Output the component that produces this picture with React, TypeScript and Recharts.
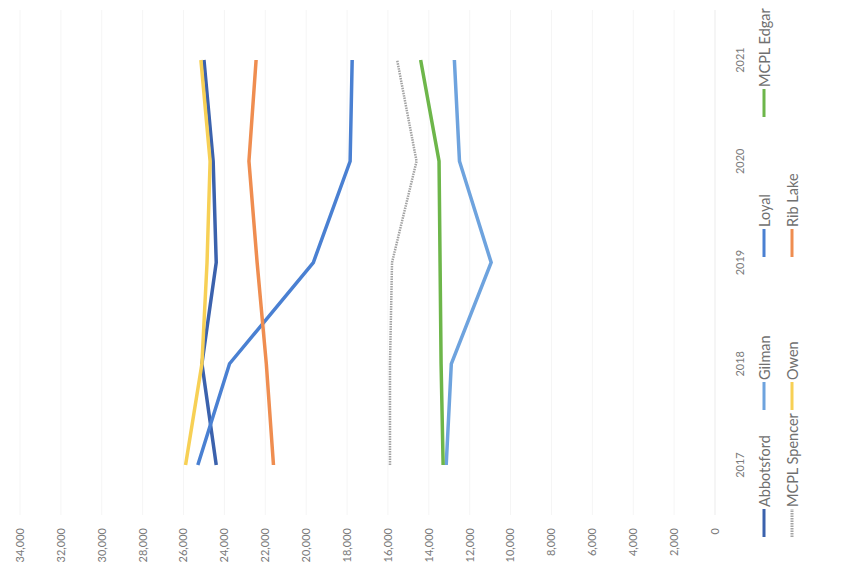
import React from "react";
import { LineChart, Line, XAxis, YAxis, CartesianGrid } from "recharts";

const years = ["2017", "2018", "2019", "2020", "2021"];

const abbotsford = [24400, 25100, 24400, 24550, 25000];
const gilman = [13150, 12900, 10950, 12500, 12750];
const loyal = [25300, 23750, 19650, 17850, 17750];
const mcplEdgar = [13300, 13400, 13450, 13500, 14400];
const mcplSpencer = [15900, 15900, 15800, 14600, 15550];
const owen = [25900, 25100, 24850, 24700, 25150];
const ribLake = [21600, 21950, 22400, 22800, 22450];

const valueTicks = [
    0, 2000, 4000, 6000, 8000, 10000, 12000, 14000, 16000, 18000, 20000, 22000,
    24000, 26000, 28000, 30000, 32000, 34000,
];

const series = [
    { name: "Abbotsford", values: abbotsford, color: "#3b62ad" },
    { name: "Gilman", values: gilman, color: "#6ea3de" },
    { name: "Loyal", values: loyal, color: "#4a80d2" },
    { name: "MCPL Edgar", values: mcplEdgar, color: "#6db64a" },
    { name: "MCPL Spencer", values: mcplSpencer, color: "#a3a3a3", dash: "1.5 1" },
    { name: "Owen", values: owen, color: "#f7d055" },
    { name: "Rib Lake", values: ribLake, color: "#ef8d50" },
];

const legendRows = [
    ["Abbotsford", "Gilman", "Loyal", "MCPL Edgar"],
    ["MCPL Spencer", "Owen", "Rib Lake"],
];
const colWidths = [127, 153, 140, 110];

const data = years.map((year, i) => {
    const row: Record<string, string | number> = { year };
    series.forEach((s) => {
        row[s.name] = s.values[i];
    });
    return row;
});

// chart is laid out the normal way, then turned a quarter turn to the left
const W = 575;
const H = 859;

const ChartLegend = () => (
    <div
        style={{
            position: "absolute",
            top: 750,
            left: 38,
            fontFamily: "Lato, sans-serif",
            fontSize: 14.5,
            color: "#707070",
        }}
    >
        {legendRows.map((row, r) => (
            <div key={r} style={{ display: "flex", height: 28, alignItems: "center" }}>
                {row.map((name, c) => {
                    const s = series.find((x) => x.name === name)!;
                    return (
                        <div
                            key={name}
                            style={{ width: colWidths[c], display: "flex", alignItems: "center" }}
                        >
                            <svg width={28} height={6} style={{ marginRight: 2 }}>
                                <line
                                    x1={0}
                                    y1={3}
                                    x2={28}
                                    y2={3}
                                    stroke={s.color}
                                    strokeWidth={3}
                                    strokeDasharray={s.dash}
                                />
                            </svg>
                            <span>{name}</span>
                        </div>
                    );
                })}
            </div>
        ))}
    </div>
);

export default function App() {
    return (
        <div
            style={{
                position: "absolute",
                left: 0,
                top: 0,
                width: 859,
                height: 575,
                overflow: "hidden",
                background: "#fff",
            }}
        >
            <div
                style={{
                    position: "absolute",
                    left: 0,
                    top: 0,
                    width: W,
                    height: H,
                    transformOrigin: "0 0",
                    transform: `translateY(${W}px) rotate(-90deg)`,
                }}
            >
                <LineChart
                    width={W}
                    height={H}
                    data={data}
                    margin={{ top: 20, right: 10, bottom: 114, left: 0 }}
                    style={{ fontFamily: "Lato, sans-serif" }}
                >
                    <CartesianGrid vertical={false} stroke="#f5f5f5" />
                    <XAxis
                        dataKey="year"
                        interval={0}
                        padding={{ left: 50, right: 50 }}
                        height={30}
                        tickLine={false}
                        tickMargin={15}
                        axisLine={{ stroke: "#f0f0f0" }}
                        tick={{ fontSize: 11, fill: "#7a7a7a" }}
                    />
                    <YAxis
                        domain={[0, 34000]}
                        ticks={valueTicks}
                        width={60}
                        axisLine={false}
                        tickLine={false}
                        tickMargin={7}
                        tickFormatter={(v: number) => v.toLocaleString("en-US")}
                        tick={{ fontSize: 11, fill: "#7a7a7a" }}
                    />
                    {series.map((s) => (
                        <Line
                            key={s.name}
                            dataKey={s.name}
                            stroke={s.color}
                            strokeWidth={s.dash ? 2.5 : 3.5}
                            strokeDasharray={s.dash}
                            dot={false}
                            type="linear"
                            isAnimationActive={false}
                        />
                    ))}
                </LineChart>
                <ChartLegend />
            </div>
        </div>
    );
}
